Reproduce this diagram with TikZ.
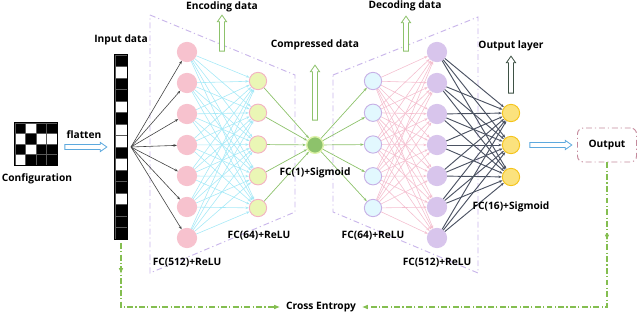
\documentclass[tikz,border=0pt]{standalone}
\usepackage{fontspec}
\usepackage{xcolor}
\usetikzlibrary{arrows.meta,shapes.arrows,decorations.markings}
\newfontfamily\labelfont{Open Sans}

\definecolor{encpink}{HTML}{F7C2CE}
\definecolor{enclime}{HTML}{EAF6B5}
\definecolor{limerim}{HTML}{F3B3C3}
\definecolor{codegreen}{HTML}{8DC26B}
\definecolor{coderim}{HTML}{DDF2A8}
\definecolor{deccyan}{HTML}{E2F8FE}
\definecolor{cyanrim}{HTML}{C7B1E6}
\definecolor{declav}{HTML}{D8C5EC}
\definecolor{outyellow}{HTML}{FBE27D}
\definecolor{outrim}{HTML}{F5C41B}
\definecolor{trapline}{HTML}{C9B6EA}
\definecolor{cyanedge}{HTML}{A6E9F7}
\definecolor{pinkedge}{HTML}{F4BFCF}
\definecolor{darkedge}{HTML}{4B5262}
\definecolor{lossgreen}{HTML}{84BE50}
\definecolor{boxrose}{HTML}{C48A9C}
\definecolor{flatblue}{HTML}{5DA9DE}
\definecolor{hollowdark}{HTML}{3E5245}

\begin{document}
\begin{tikzpicture}[x=0.03cm,y=-0.03cm,
  lab/.style={font=\labelfont\bfseries\fontsize{8.7}{10}\selectfont,inner sep=1pt},
  cell/.style={draw=gray!70!black,line width=0.3pt,minimum width=0.36cm,minimum height=0.345cm,inner sep=0pt},
  gcell/.style={draw=gray!70!black,line width=0.3pt,minimum size=0.315cm,inner sep=0pt},
  neuron/.style={circle,inner sep=0pt,line width=0.8pt},
  encA/.style={neuron,fill=encpink,draw=encpink,minimum size=0.58cm},
  encB/.style={neuron,fill=enclime,draw=limerim,minimum size=0.52cm},
  code/.style={neuron,fill=codegreen,draw=coderim,line width=1.2pt,minimum size=0.5cm},
  decC/.style={neuron,fill=deccyan,draw=cyanrim,minimum size=0.52cm},
  decD/.style={neuron,fill=declav,draw=declav,minimum size=0.58cm},
  outN/.style={neuron,fill=outyellow,draw=outrim,minimum size=0.52cm},
  tip/.style={-{Stealth[length=3pt,width=2.2pt]}},
  inarr/.style={tip,draw=black!75,line width=0.5pt},
  cyanarr/.style={tip,draw=cyanedge,line width=0.5pt},
  greenarr/.style={tip,draw=codegreen,line width=0.6pt},
  pinkarr/.style={tip,draw=pinkedge,line width=0.5pt},
  darkarr/.style={tip,draw=darkedge,line width=0.8pt},
  trap/.style={draw=trapline,line width=0.8pt,dash pattern=on 5pt off 2.5pt on 1pt off 2.5pt},
  hollow/.style={single arrow,fill=white,line width=0.7pt,inner sep=0.065cm,single arrow head extend=0.06cm,single arrow tip angle=70},
  outbox/.style={draw=boxrose,line width=0.8pt,rounded corners=5pt,dash pattern=on 5pt off 2.5pt on 1pt off 2.5pt,minimum width=1.77cm,minimum height=1.02cm,font=\labelfont\bfseries\fontsize{8.7}{10}\selectfont},
  loss/.style={draw=lossgreen,line width=0.9pt,dash pattern=on 5pt off 2pt on 1pt off 2pt,-{Latex[length=5pt,width=4pt]}},
  midarrow/.style={postaction={decorate},decoration={markings,mark=at position #1 with {\arrow{Latex[length=5pt,width=4pt]}}}}
]
\useasboundingbox (0,0) rectangle (640,315);

% Configuration grid and flattened column
\foreach \v [count=\i from 0, evaluate=\v as \tone using int(100*\v)] in {1,0,1,1,0,1,0,0,1,0,1,1,0,1,1,1}{
  \pgfmathtruncatemacro\gr{\i/4}
  \pgfmathtruncatemacro\gc{mod(\i,4)}
  \node[gcell,fill=black!\tone] (g\i) at (20.25+10.5*\gc,128.25+10.5*\gr) {};
  \node[cell,fill=black!\tone] (in\i) at (121,60.75+11.5*\i) {};
}
\draw[line width=0.6pt] (g0.north west) rectangle (g15.south east);
\draw[line width=0.6pt] (in0.north west) rectangle (in15.south east);
\node[lab] (config) at (37,179) {Configuration};
\node[lab] (flat) at (84,135) {flatten};
\node[hollow,draw=flatblue,minimum height=1.26cm] (flatarr) at (84,147) {};
\node[lab] (inlabel) at (121,40) {Input data};
\coordinate (fan) at (131,147);

% Encoder and decoder frames
\draw[trap] (150,15) -- (295,75) -- (295,212) -- (150,273) -- cycle;
\draw[trap] (333,75) -- (478,17) -- (478,273) -- (333,212) -- cycle;

% Layers
\foreach \i in {1,...,7} \node[encA] (a\i) at (187,52+31*\i-31) {};
\foreach \i in {1,...,5} \node[encB] (b\i) at (258,81+31.75*\i-31.75) {};
\node[code] (z) at (315,145) {};
\foreach \i in {1,...,5} \node[decC] (c\i) at (373,81+31.75*\i-31.75) {};
\foreach \i in {1,...,7} \node[decD] (d\i) at (437,52+31*\i-31) {};
\foreach \i in {1,2,3} \node[outN] (o\i) at (511,81+32*\i) {};

% Connections
\foreach \i in {1,...,7} \draw[inarr] (fan) -- (a\i);
\foreach \i in {1,...,7} \foreach \j in {1,...,5} \draw[cyanarr] (a\i) -- (b\j);
\foreach \j in {1,...,5} \draw[greenarr] (b\j) -- (z);
\foreach \j in {1,...,5} \draw[greenarr] (z) -- (c\j);
\foreach \j in {1,...,5} \foreach \i in {1,...,7} \draw[pinkarr] (c\j) -- (d\i);
\foreach \i in {1,...,7} \foreach \k in {1,2,3} \draw[darkarr] (d\i) -- (o\k);

% Hollow indicator arrows and titles
\node[lab] (enclabel) at (222,7) {Encoding data};
\node[hollow,draw=codegreen,rotate=90,minimum height=1.08cm] (encarr) at (222,35) {};
\node[lab] (declabel) at (405,6) {Decoding data};
\node[hollow,draw=codegreen,rotate=90,minimum height=1.05cm] (decarr) at (406,35.5) {};
\node[lab] (codelabel) at (315,45) {Compressed data};
\node[hollow,draw=codegreen,rotate=90,minimum height=1.65cm] (codearr) at (315,94.5) {};
\node[lab] (outlabel) at (511,46) {Output layer};
\node[hollow,draw=hollowdark,rotate=90,minimum height=1.11cm] (outarr) at (511,76.5) {};

% Layer captions
\node[lab] (fc512a) at (187,263) {FC(512)+ReLU};
\node[lab] (fc64a) at (259,236) {FC(64)+ReLU};
\node[lab] (fc1) at (315,173) {FC(1)+Sigmoid};
\node[lab] (fc64b) at (373,236) {FC(64)+ReLU};
\node[lab] (fc512b) at (437,263) {FC(512)+ReLU};
\node[lab] (fc16) at (511,207) {FC(16)+Sigmoid};

% Output and loss
\node[hollow,draw=flatblue,minimum height=1.26cm] (resarr) at (549,145) {};
\node[outbox] (outbox) at (607,145) {Output};
\node[lab,inner xsep=5pt] (ce) at (321,307) {Cross Entropy};
\coordinate (lossL) at (121,243);
\draw[loss,midarrow=0.93cm] (lossL) |- (ce.west);
\draw[loss,midarrow=2.34cm] (outbox.south) |- (ce.east);

\end{tikzpicture}
\end{document}
